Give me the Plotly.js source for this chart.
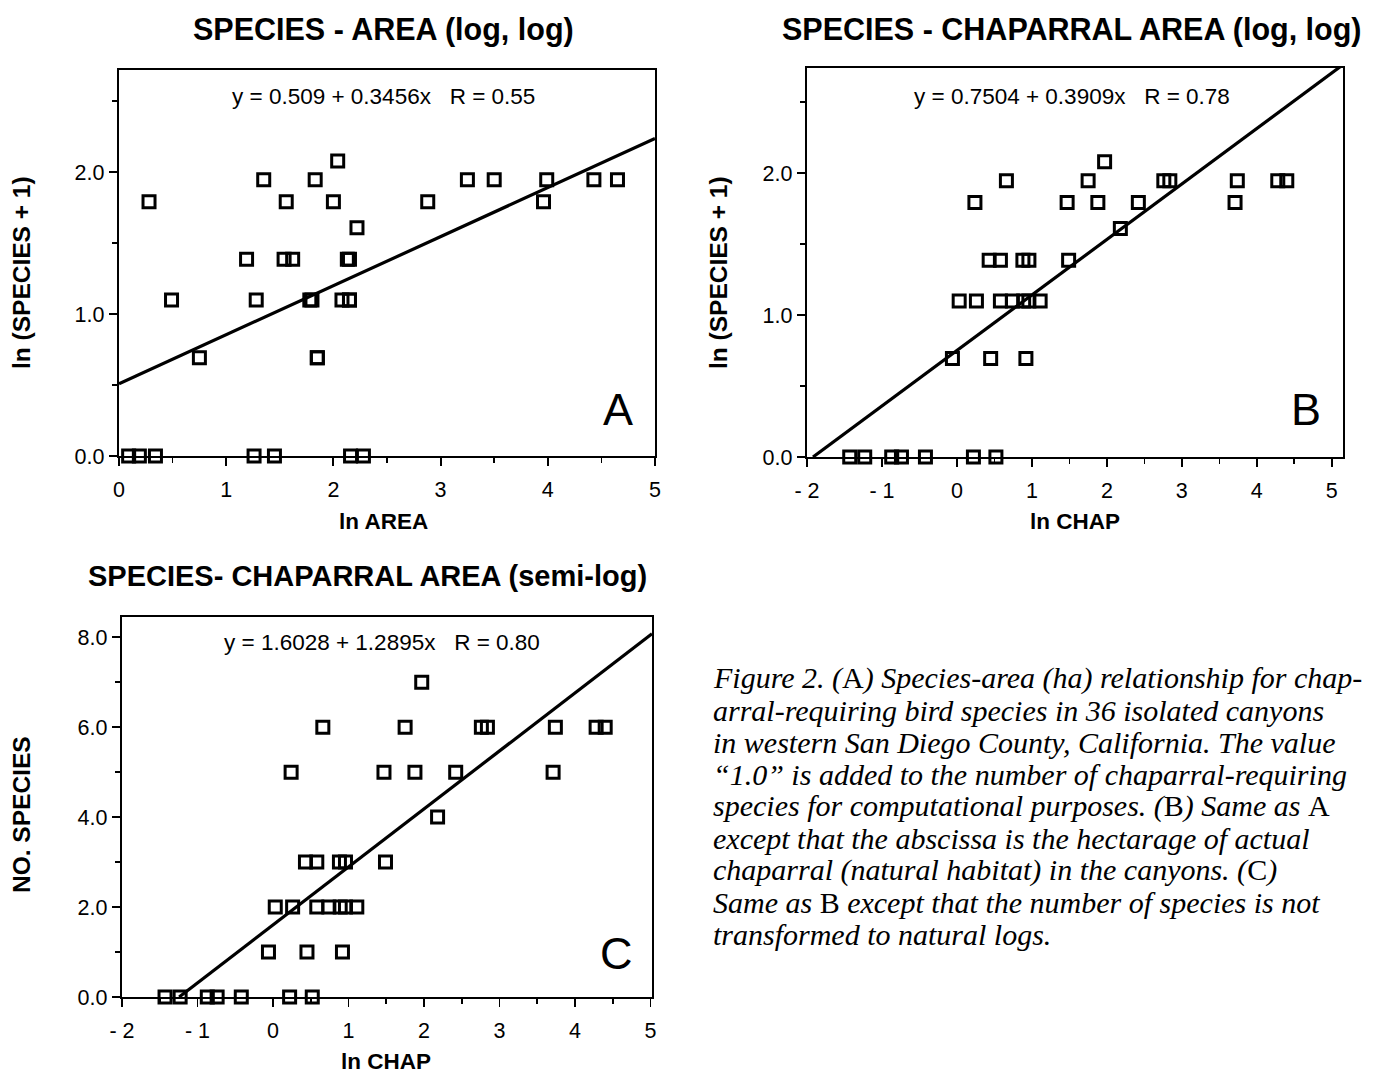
<!DOCTYPE html>
<html>
<head>
<meta charset="utf-8">
<script src="https://cdn.plot.ly/plotly-3.0.1.min.js"></script>
<style>html,body{margin:0;padding:0;background:#fff}#chart{width:1375px;height:1075px}</style>
</head>
<body>
<div id="chart"></div>
<script>
// ---- Panel A: ln AREA vs ln(SPECIES + 1) ----
const lnArea = [0.09,0.19,0.34,1.26,1.45,2.16,2.28,
  0.75,1.85,1.85,
  0.49,1.28,1.78,1.80,2.08,2.15,2.15,
  1.19,1.54,1.62,2.13,2.15,
  2.22,
  0.28,1.56,2.00,2.88,3.96,
  1.35,1.83,3.25,3.50,3.99,4.43,4.65,
  2.04];
const lnSpeciesA = [0,0,0,0,0,0,0,
  0.693,0.693,0.693,
  1.099,1.099,1.099,1.099,1.099,1.099,1.099,
  1.386,1.386,1.386,1.386,1.386,
  1.609,
  1.792,1.792,1.792,1.792,1.792,
  1.946,1.946,1.946,1.946,1.946,1.946,1.946,
  2.079];

// ---- Panels B and C: ln CHAP ----
const lnChap = [-1.43,-1.23,-0.87,-0.74,-0.42,0.22,0.52,
  -0.06,0.45,0.92,
  0.03,0.26,0.58,0.74,0.89,0.96,1.11,
  0.43,0.58,0.88,0.96,1.49,
  2.18,
  0.24,1.47,1.88,2.42,3.71,
  0.66,1.75,2.76,2.84,3.74,4.28,4.40,
  1.97];
const lnSpeciesB = [0,0,0,0,0,0,0,
  0.693,0.693,0.693,
  1.099,1.099,1.099,1.099,1.099,1.099,1.099,
  1.386,1.386,1.386,1.386,1.386,
  1.609,
  1.792,1.792,1.792,1.792,1.792,
  1.946,1.946,1.946,1.946,1.946,1.946,1.946,
  2.079];
const noSpecies = [0,0,0,0,0,0,0,
  1,1,1,
  2,2,2,2,2,2,2,
  3,3,3,3,3,
  4,
  5,5,5,5,5,
  6,6,6,6,6,6,6,
  7];

// regression fits (intercept, slope) and line x extents
const fitA = {a:0.509, b:0.3456, x0:0, x1:5};
const fitB = {a:0.7504, b:0.3909, x0:-1.92, x1:5.15};
const fitC = {a:1.6028, b:1.2895, x0:-1.243, x1:5.02};

const eqA = "y = 0.509 + 0.3456x   R = 0.55";
const eqB = "y = 0.7504 + 0.3909x   R = 0.78";
const eqC = "y = 1.6028 + 1.2895x   R = 0.80";

const xTickValsA = [0,1,2,3,4,5];
const xTickTextA = ["0","1","2","3","4","5"];
const xTickValsBC = [-2,-1,0,1,2,3,4,5];
const xTickTextBC = ["- 2","- 1","0","1","2","3","4","5"];
const yTickValsLn = [0,1,2];
const yTickTextLn = ["0.0","1.0","2.0"];
const yTickValsC = [0,2,4,6,8];
const yTickTextC = ["0.0","2.0","4.0","6.0","8.0"];

const caption = [
  "<i>Figure 2. (</i>A<i>) Species-area (ha) relationship for chap-</i>",
  "<i>arral-requiring bird species in 36 isolated canyons</i>",
  "<i>in western San Diego County, California. The value</i>",
  "<i>“1.0” is added to the number of chaparral-requiring</i>",
  "<i>species for computational purposes. (</i>B<i>) Same as </i>A",
  "<i>except that the abscissa is the hectarage of actual</i>",
  "<i>chaparral (natural habitat) in the canyons. (</i>C<i>)</i>",
  "<i>Same as </i>B<i> except that the number of species is not</i>",
  "<i>transformed to natural logs.</i>"
];

const SANS = "Liberation Sans, Arial, Helvetica, sans-serif";
const W = 1375, H = 1075;
const px = v => v / W;
const py = v => 1 - v / H;

const marker = {symbol:'square-open', size:12, color:'#000', line:{width:3, color:'#000'}};
function pts(x, y, xa, ya){
  return {type:'scatter', mode:'markers', x:x, y:y, xaxis:xa, yaxis:ya, marker:marker, cliponaxis:false, hoverinfo:'x+y'};
}
function fitLine(f, xa, ya){
  return {type:'scatter', mode:'lines', x:[f.x0, f.x1], y:[f.a + f.b*f.x0, f.a + f.b*f.x1],
    xaxis:xa, yaxis:ya, line:{color:'#000', width:3.2}, cliponaxis:true, hoverinfo:'skip'};
}

const data = [
  fitLine(fitA,'x','y'), pts(lnArea, lnSpeciesA, 'x','y'),
  fitLine(fitB,'x2','y2'), pts(lnChap, lnSpeciesB, 'x2','y2'),
  fitLine(fitC,'x3','y3'), pts(lnChap, noSpecies, 'x3','y3')
];

function ax(domain, range, tv, tt, minorD, anchor){
  return {domain:domain, range:range, anchor:anchor, showline:true, linewidth:2.2, linecolor:'#000', mirror:true,
    ticks:'outside', ticklen:8, tickwidth:1.8, tickcolor:'#000',
    tickvals:tv, ticktext:tt, showgrid:false, zeroline:false,
    tickfont:{family:SANS, size:21.5, color:'#000'},
    minor:{dtick:minorD, ticks:'outside', ticklen:5, tickwidth:1.6, tickcolor:'#000', showgrid:false},
    fixedrange:true};
}

const xa = ax([px(119), px(655)], [0,5], xTickValsA, xTickTextA, 0.5, 'y');
xa.ticklabelstandoff = 5;
const ya = ax([py(456), py(70)], [0,2.72], yTickValsLn, yTickTextLn, 0.5, 'x');
const xb = ax([px(807), px(1343)], [-2,5.15], xTickValsBC, xTickTextBC, 0.5, 'y2');
xb.ticklabelstandoff = 5;
const yb = ax([py(457), py(68)], [0,2.74], yTickValsLn, yTickTextLn, 0.5, 'x2');
const xc = ax([px(122), px(652)], [-2,5.02], xTickValsBC, xTickTextBC, 0.5, 'y3');
xc.ticklabelstandoff = 5;
const yc = ax([py(997), py(617)], [0,8.45], yTickValsC, yTickTextC, 1, 'x3');

function txt(text, x, y, size, bold, extra){
  return Object.assign({text: bold ? '<b>'+text+'</b>' : text, xref:'paper', yref:'paper', x:px(x), y:py(y),
    showarrow:false, xanchor:'center', yanchor:'middle',
    font:{family:SANS, size:size, color:'#000'}}, extra||{});
}

const annotations = [
  txt("SPECIES - AREA (log, log)", 383, 29, 30.5, true),
  txt("SPECIES - CHAPARRAL AREA (log, log)", 1072, 29, 30.5, true),
  txt("SPECIES- CHAPARRAL AREA (semi-log)", 367, 576, 29, true),
  txt(eqA, 383, 96, 22.5, false),
  txt(eqB, 1072, 96, 22.5, false),
  txt(eqC, 382, 642, 22.5, false),
  txt("A", 618, 410, 45, false),
  txt("B", 1306, 410, 45, false),
  txt("C", 616, 953, 45, false),
  txt("ln AREA", 383, 521, 22.5, true),
  txt("ln CHAP", 1075, 521, 22.5, true),
  txt("ln CHAP", 386, 1061, 22.5, true),
  txt("ln (SPECIES + 1)", 21, 273, 24.5, true, {textangle:-90}),
  txt("ln (SPECIES + 1)", 718, 273, 24.5, true, {textangle:-90}),
  txt("NO. SPECIES", 21, 815, 24.5, true, {textangle:-90})
];
caption.forEach((line, i) => {
  annotations.push({text:line, xref:'paper', yref:'paper', x:px(711), y:py(678 + i*32),
    showarrow:false, xanchor:'left', yanchor:'middle',
    font:{family:"Liberation Serif, Times New Roman, serif", size:30, color:'#000'}});
});

const layout = {
  width:W, height:H, margin:{l:0,r:0,t:0,b:0}, paper_bgcolor:'#fff', plot_bgcolor:'#fff',
  showlegend:false,
  xaxis:xa, yaxis:ya, xaxis2:xb, yaxis2:yb, xaxis3:xc, yaxis3:yc,
  annotations:annotations
};

Plotly.newPlot('chart', data, layout, {displayModeBar:false, staticPlot:true});
</script>
</body>
</html>
